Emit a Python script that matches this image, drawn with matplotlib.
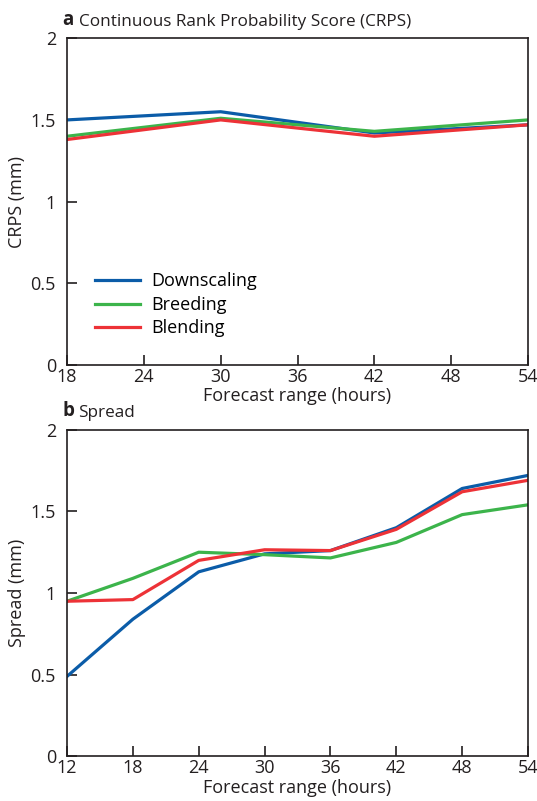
import matplotlib
matplotlib.use("Agg")
import matplotlib.pyplot as plt

plt.rcParams['font.family'] = ['Open Sans', 'DejaVu Sans']

# panel a: CRPS
crps_hours = [18, 30, 42, 54]
crps_downscaling = [1.50, 1.55, 1.42, 1.47]
crps_breeding = [1.40, 1.51, 1.43, 1.50]
crps_blending = [1.38, 1.50, 1.40, 1.47]

# panel b: spread
spread_hours = [12, 18, 24, 30, 36, 42, 48, 54]
spread_downscaling = [0.49, 0.84, 1.13, 1.24, 1.26, 1.40, 1.64, 1.72]
spread_breeding = [0.95, 1.09, 1.25, 1.235, 1.215, 1.31, 1.48, 1.54]
spread_blending = [0.95, 0.96, 1.20, 1.265, 1.26, 1.39, 1.62, 1.69]

yticks = [0, 0.5, 1, 1.5, 2]
ytick_labels = ["0", "0.5", "1", "1.5", "2"]

BLUE = "#0b5ca8"
GREEN = "#3cb44b"
RED = "#ed3237"
LW = 2.3
FS = 13
INK = '#231f20'


def style_axes(ax, xticks, ylabel, letter, title):
    ax.set_xlim(xticks[0], xticks[-1])
    ax.set_ylim(0, 2)
    ax.set_xticks(xticks)
    ax.set_xticklabels([str(x) for x in xticks], fontsize=FS)
    ax.set_yticks(yticks)
    ax.set_yticklabels(ytick_labels, fontsize=FS)
    ax.tick_params(direction='in', length=7, width=1.2, colors=INK)
    ax.tick_params(axis='x', pad=2)
    ax.tick_params(axis='y', pad=8)
    for s in ax.spines.values():
        s.set_linewidth(1.2)
        s.set_color(INK)
    ax.set_xlabel("Forecast range (hours)", fontsize=FS, labelpad=1, color=INK)
    ax.set_ylabel(ylabel, fontsize=FS, labelpad=3, color=INK)
    ax.text(-0.01, 1.025, letter, transform=ax.transAxes, fontsize=13.5,
            fontweight='bold', ha='left', va='bottom', color=INK)
    ax.text(0.025, 1.025, title, transform=ax.transAxes, fontsize=12.3,
            ha='left', va='bottom', color=INK)


fig = plt.figure(figsize=(5.37, 8.01), dpi=100)
ax1 = fig.add_axes([0.1248, 0.5443, 0.8585, 0.408])
ax2 = fig.add_axes([0.1248, 0.0556, 0.8585, 0.408])

ax1.plot(crps_hours, crps_downscaling, color=BLUE, lw=LW, label="Downscaling")
ax1.plot(crps_hours, crps_breeding, color=GREEN, lw=LW, label="Breeding")
ax1.plot(crps_hours, crps_blending, color=RED, lw=LW, label="Blending")
style_axes(ax1, [18, 24, 30, 36, 42, 48, 54], "CRPS (mm)", "a",
           "Continuous Rank Probability Score (CRPS)")
ax1.legend(loc='lower left', bbox_to_anchor=(0.025, 0.035), frameon=False,
           fontsize=FS, handlelength=2.5, handletextpad=0.6, labelspacing=0.3)

ax2.plot(spread_hours, spread_downscaling, color=BLUE, lw=LW)
ax2.plot(spread_hours, spread_breeding, color=GREEN, lw=LW)
ax2.plot(spread_hours, spread_blending, color=RED, lw=LW)
style_axes(ax2, spread_hours, "Spread (mm)", "b", "Spread")

fig.savefig("out.png", dpi=100)
